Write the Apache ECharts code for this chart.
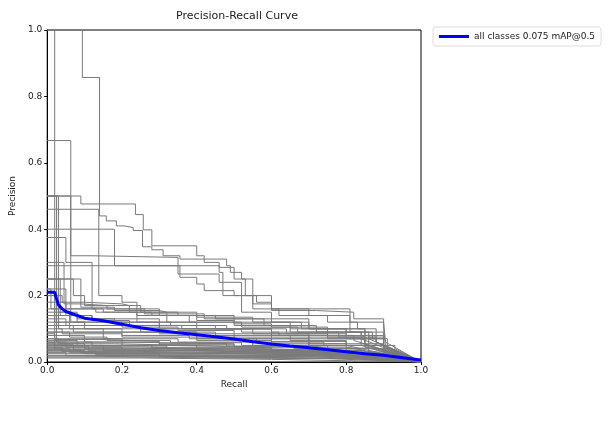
<!DOCTYPE html>
<html>
<head>
<meta charset="utf-8">
<script src="https://cdn.jsdelivr.net/npm/echarts@6/dist/echarts.min.js"></script>
<style>
  html, body { margin: 0; padding: 0; background: #fff; }
  #chart { width: 610px; height: 425px; }
</style>
</head>
<body>
<div id="chart"></div>
<script>
// tick labels for both axes
const tickValues = [0, 0.2, 0.4, 0.6, 0.8, 1.0]

// mean curve over all classes (recall / precision)
const meanName = 'all classes 0.075 mAP@0.5'
const meanRecall = [0, 0.02, 0.025, 0.03, 0.04, 0.05, 0.08, 0.1, 0.15, 0.2, 0.25, 0.3, 0.35, 0.4, 0.45, 0.5, 0.55, 0.6, 0.65, 0.7, 0.75, 0.8, 0.85, 0.9, 0.95, 1.0]
const meanPrecision = [0.21, 0.21, 0.19, 0.172, 0.16, 0.152, 0.14, 0.132, 0.124, 0.114, 0.103, 0.095, 0.088, 0.082, 0.076, 0.069, 0.061, 0.054, 0.048, 0.043, 0.037, 0.031, 0.025, 0.02, 0.013, 0.006]

// per-class curves: [recall where the step starts, precision]
const classCurves = [
  [[0, 1.0], [0.094, 0.857], [0.14, 0.44], [0.158, 0.425], [0.185, 0.41], [0.205, 0.405], [0.23, 0.396], [0.255, 0.347], [0.28, 0.338], [0.31, 0.32], [0.355, 0.31], [0.48, 0.29], [0.49, 0.27], [0.52, 0.25], [0.55, 0.2], [0.6, 0.16], [0.81, 0.09], [0.84, 0.08]],
  [[0, 0.5], [0.09, 0.476], [0.236, 0.444], [0.257, 0.398], [0.28, 0.35], [0.4, 0.32], [0.42, 0.3], [0.46, 0.285], [0.5, 0.25], [0.53, 0.2], [0.55, 0.175], [0.6, 0.155], [0.72, 0.15], [0.82, 0.13], [0.9, 0.12], [0.905, 0.06]],
  [[0, 0.667], [0.063, 0.32], [0.12, 0.315], [0.35, 0.265], [0.46, 0.24], [0.52, 0.2], [0.56, 0.18], [0.6, 0.16], [0.7, 0.14], [0.81, 0.12], [0.83, 0.1], [0.85, 0.045]],
  [[0, 0.4], [0.18, 0.29], [0.355, 0.255], [0.4, 0.235], [0.42, 0.215], [0.5, 0.2], [0.55, 0.16], [0.62, 0.14], [0.75, 0.12], [0.9, 0.1], [0.905, 0.05]],
  [[0, 1.0], [0.02, 0.05], [0.3, 0.045], [0.6, 0.035], [0.85, 0.02]],
  [[0, 0.5], [0.025, 0.06], [0.2, 0.055], [0.5, 0.045], [0.8, 0.03]],
  [[0, 0.5], [0.03, 0.1], [0.15, 0.09], [0.4, 0.07], [0.7, 0.05], [0.9, 0.03]],
  [[0, 0.29], [0.46, 0.27], [0.47, 0.2], [0.52, 0.15], [0.6, 0.13], [0.7, 0.1], [0.88, 0.06]],
  [[0, 0.375], [0.05, 0.3], [0.12, 0.16], [0.3, 0.14], [0.5, 0.12], [0.65, 0.1], [0.8, 0.08], [0.86, 0.05]],
  [[0, 0.25], [0.07, 0.2], [0.1, 0.17], [0.25, 0.15], [0.4, 0.135], [0.55, 0.12], [0.7, 0.1], [0.85, 0.08], [0.9, 0.05]],
  [[0, 0.46], [0.138, 0.2], [0.2, 0.18], [0.24, 0.12], [0.4, 0.1], [0.6, 0.08], [0.7, 0.05]],
  [[0, 0.5], [0.063, 0.12], [0.3, 0.1], [0.6, 0.075], [0.85, 0.05]],
  [[0, 0.2], [0.04, 0.18], [0.1, 0.175], [0.2, 0.17], [0.22, 0.15], [0.35, 0.14], [0.45, 0.13], [0.6, 0.12], [0.68, 0.1], [0.8, 0.09], [0.87, 0.07], [0.9, 0.045]],
  [[0, 0.22], [0.01, 0.16], [0.15, 0.15], [0.28, 0.14], [0.4, 0.125], [0.5, 0.115], [0.6, 0.105], [0.75, 0.09], [0.9, 0.07], [0.91, 0.04]],
  [[0, 0.25], [0.09, 0.165], [0.18, 0.155], [0.3, 0.15], [0.32, 0.12], [0.5, 0.11], [0.65, 0.09], [0.78, 0.075], [0.84, 0.05]],
  [[0, 0.18], [0.05, 0.14], [0.12, 0.13], [0.3, 0.11], [0.45, 0.1], [0.6, 0.09], [0.75, 0.075], [0.88, 0.06]],
  [[0, 0.15], [0.08, 0.12], [0.2, 0.105], [0.35, 0.095], [0.5, 0.085], [0.7, 0.07], [0.85, 0.055]],
  [[0, 0.13], [0.05, 0.11], [0.25, 0.09], [0.45, 0.08], [0.65, 0.065], [0.8, 0.05]],
  [[0, 0.12], [0.1, 0.1], [0.3, 0.085], [0.5, 0.07], [0.7, 0.055], [0.9, 0.04]],
  [[0, 0.1], [0.04, 0.085], [0.2, 0.075], [0.4, 0.065], [0.6, 0.055], [0.8, 0.045]],
  [[0, 0.09], [0.15, 0.07], [0.35, 0.06], [0.55, 0.05], [0.75, 0.04], [0.92, 0.03]],
  [[0, 0.08], [0.1, 0.06], [0.3, 0.052], [0.5, 0.045], [0.7, 0.035]],
  [[0, 0.07], [0.2, 0.05], [0.4, 0.042], [0.6, 0.035], [0.85, 0.025]],
  [[0, 0.06], [0.05, 0.045], [0.25, 0.04], [0.45, 0.035], [0.65, 0.028]],
  [[0, 0.055], [0.1, 0.04], [0.3, 0.035], [0.55, 0.03], [0.8, 0.022]],
  [[0, 0.05], [0.15, 0.035], [0.4, 0.03], [0.7, 0.024], [0.95, 0.018]],
  [[0, 0.045], [0.2, 0.03], [0.45, 0.026], [0.75, 0.02]],
  [[0, 0.04], [0.06, 0.028], [0.3, 0.024], [0.6, 0.02], [0.9, 0.015]],
  [[0, 0.035], [0.1, 0.025], [0.5, 0.02], [0.8, 0.016]],
  [[0, 0.03], [0.2, 0.02], [0.6, 0.016], [0.95, 0.012]],
  [[0, 0.025], [0.3, 0.017], [0.7, 0.013]],
  [[0, 0.02], [0.15, 0.014], [0.55, 0.011], [0.9, 0.009]],
  [[0, 0.015], [0.4, 0.01], [0.8, 0.008]],
  [[0, 0.16], [0.03, 0.15], [0.06, 0.1], [0.2, 0.09], [0.4, 0.075], [0.6, 0.062], [0.8, 0.05], [0.93, 0.04]],
  [[0, 0.2], [0.02, 0.12], [0.1, 0.11], [0.3, 0.1], [0.55, 0.085], [0.75, 0.07], [0.88, 0.06]],
  [[0, 0.14], [0.12, 0.125], [0.22, 0.11], [0.36, 0.1], [0.52, 0.09], [0.62, 0.08], [0.82, 0.065]],
  [[0, 0.3], [0.045, 0.175], [0.09, 0.17], [0.16, 0.16], [0.26, 0.145], [0.42, 0.13], [0.58, 0.11], [0.72, 0.09], [0.86, 0.075], [0.9, 0.045]],
  [[0, 0.07], [0.03, 0.055], [0.18, 0.05], [0.38, 0.045], [0.58, 0.038], [0.78, 0.03], [0.93, 0.02]],
  [[0, 0.065], [0.08, 0.05], [0.28, 0.043], [0.48, 0.037], [0.68, 0.03], [0.88, 0.022]],
  [[0, 0.06], [0.12, 0.048], [0.32, 0.04], [0.52, 0.034], [0.72, 0.027]],
  [[0, 0.058], [0.02, 0.042], [0.22, 0.038], [0.42, 0.032], [0.62, 0.027], [0.82, 0.021]],
  [[0, 0.052], [0.07, 0.038], [0.27, 0.033], [0.47, 0.028], [0.67, 0.023], [0.9, 0.017]],
  [[0, 0.048], [0.11, 0.034], [0.35, 0.03], [0.58, 0.025], [0.85, 0.019]],
  [[0, 0.043], [0.04, 0.032], [0.24, 0.028], [0.5, 0.023], [0.76, 0.018]],
  [[0, 0.038], [0.09, 0.027], [0.33, 0.023], [0.63, 0.019], [0.9, 0.014]],
  [[0, 0.033], [0.13, 0.022], [0.42, 0.019], [0.72, 0.015]],
  [[0, 0.028], [0.05, 0.019], [0.36, 0.016], [0.66, 0.013], [0.96, 0.01]],
  [[0, 0.09], [0.06, 0.075], [0.16, 0.065], [0.33, 0.058], [0.52, 0.05], [0.7, 0.042], [0.86, 0.033]],
  [[0, 0.085], [0.02, 0.068], [0.14, 0.062], [0.3, 0.055], [0.48, 0.048], [0.66, 0.04], [0.84, 0.03]],
  [[0, 0.11], [0.07, 0.09], [0.2, 0.08], [0.38, 0.07], [0.56, 0.06], [0.74, 0.05], [0.9, 0.038]],
  [[0, 0.012], [0.25, 0.008], [0.6, 0.006]],
  [[0, 0.018], [0.1, 0.012], [0.45, 0.01], [0.75, 0.007]],
  [[0, 0.25], [0.035, 0.14], [0.08, 0.13], [0.18, 0.12], [0.33, 0.11], [0.48, 0.1], [0.64, 0.085], [0.8, 0.07], [0.9, 0.05]],
  [[0, 0.22], [0.05, 0.16], [0.13, 0.15], [0.24, 0.14], [0.38, 0.12], [0.52, 0.105], [0.67, 0.09], [0.84, 0.07]],
]

// step list -> polyline with vertical drops, tail falls linearly to (1, 0)
function toPath(steps) {
  const pts = []
  steps.forEach(function (s, i) {
    if (i > 0) pts.push([s[0], steps[i - 1][1]])
    pts.push([s[0], s[1]])
  })
  pts.push([1, 0])
  return pts
}

const chart = echarts.init(document.getElementById('chart'), null, { renderer: 'canvas' })

const series = classCurves.map(function (c) {
  return {
    type: 'line',
    data: toPath(c),
    symbol: 'none',
    silent: true,
    lineStyle: { color: '#7a7a7a', width: 1 },
    z: 2,
  }
})
series.push({
  name: meanName,
  type: 'line',
  data: meanRecall.map(function (r, i) { return [r, meanPrecision[i]] }),
  symbol: 'none',
  lineStyle: { color: '#0000ff', width: 3 },
  itemStyle: { color: '#0000ff' },
  z: 5,
})

const axisFont = { fontFamily: 'DejaVu Sans', fontSize: 9, color: '#222' }

const option = {
  animation: false,
  backgroundColor: '#fff',
  title: {
    text: 'Precision-Recall Curve',
    left: 232,
    textAlign: 'center',
    top: 6,
    textStyle: { fontFamily: 'DejaVu Sans', fontSize: 11, fontWeight: 'normal', color: '#222' },
  },
  legend: {
    data: [{ name: meanName, icon: 'rect' }],
    left: 433,
    top: 27,
    itemWidth: 30,
    itemHeight: 3,
    itemGap: 4,
    padding: [5, 6],
    borderColor: '#ddd',
    borderWidth: 1,
    borderRadius: 3,
    textStyle: { fontFamily: 'DejaVu Sans', fontSize: 9, color: '#222' },
  },
  grid: {
    left: 43,
    right: 189,
    top: 30,
    bottom: 63,
    show: true,
    borderColor: '#000',
    borderWidth: 1,
  },
  xAxis: {
    type: 'value',
    min: 0,
    max: 1,
    interval: 0.2,
    name: 'Recall',
    nameLocation: 'middle',
    nameGap: 17,
    nameTextStyle: axisFont,
    axisLine: { show: true, lineStyle: { color: '#000' } },
    axisTick: { show: true, length: 3, lineStyle: { color: '#000' } },
    axisLabel: Object.assign({ margin: 4, formatter: function (v) { return v.toFixed(1) } }, axisFont),
    splitLine: { show: false },
  },
  yAxis: {
    type: 'value',
    min: 0,
    max: 1,
    interval: 0.2,
    name: 'Precision',
    nameLocation: 'middle',
    nameGap: 26,
    nameTextStyle: axisFont,
    axisLine: { show: true, lineStyle: { color: '#000' } },
    axisTick: { show: true, length: 3, lineStyle: { color: '#000' } },
    axisLabel: Object.assign({ margin: 5, formatter: function (v) { return tickValues.indexOf(v) >= 0 ? v.toFixed(1) : '' } }, axisFont),
    splitLine: { show: false },
  },
  series: series,
}

chart.setOption(option)
</script>
</body>
</html>
